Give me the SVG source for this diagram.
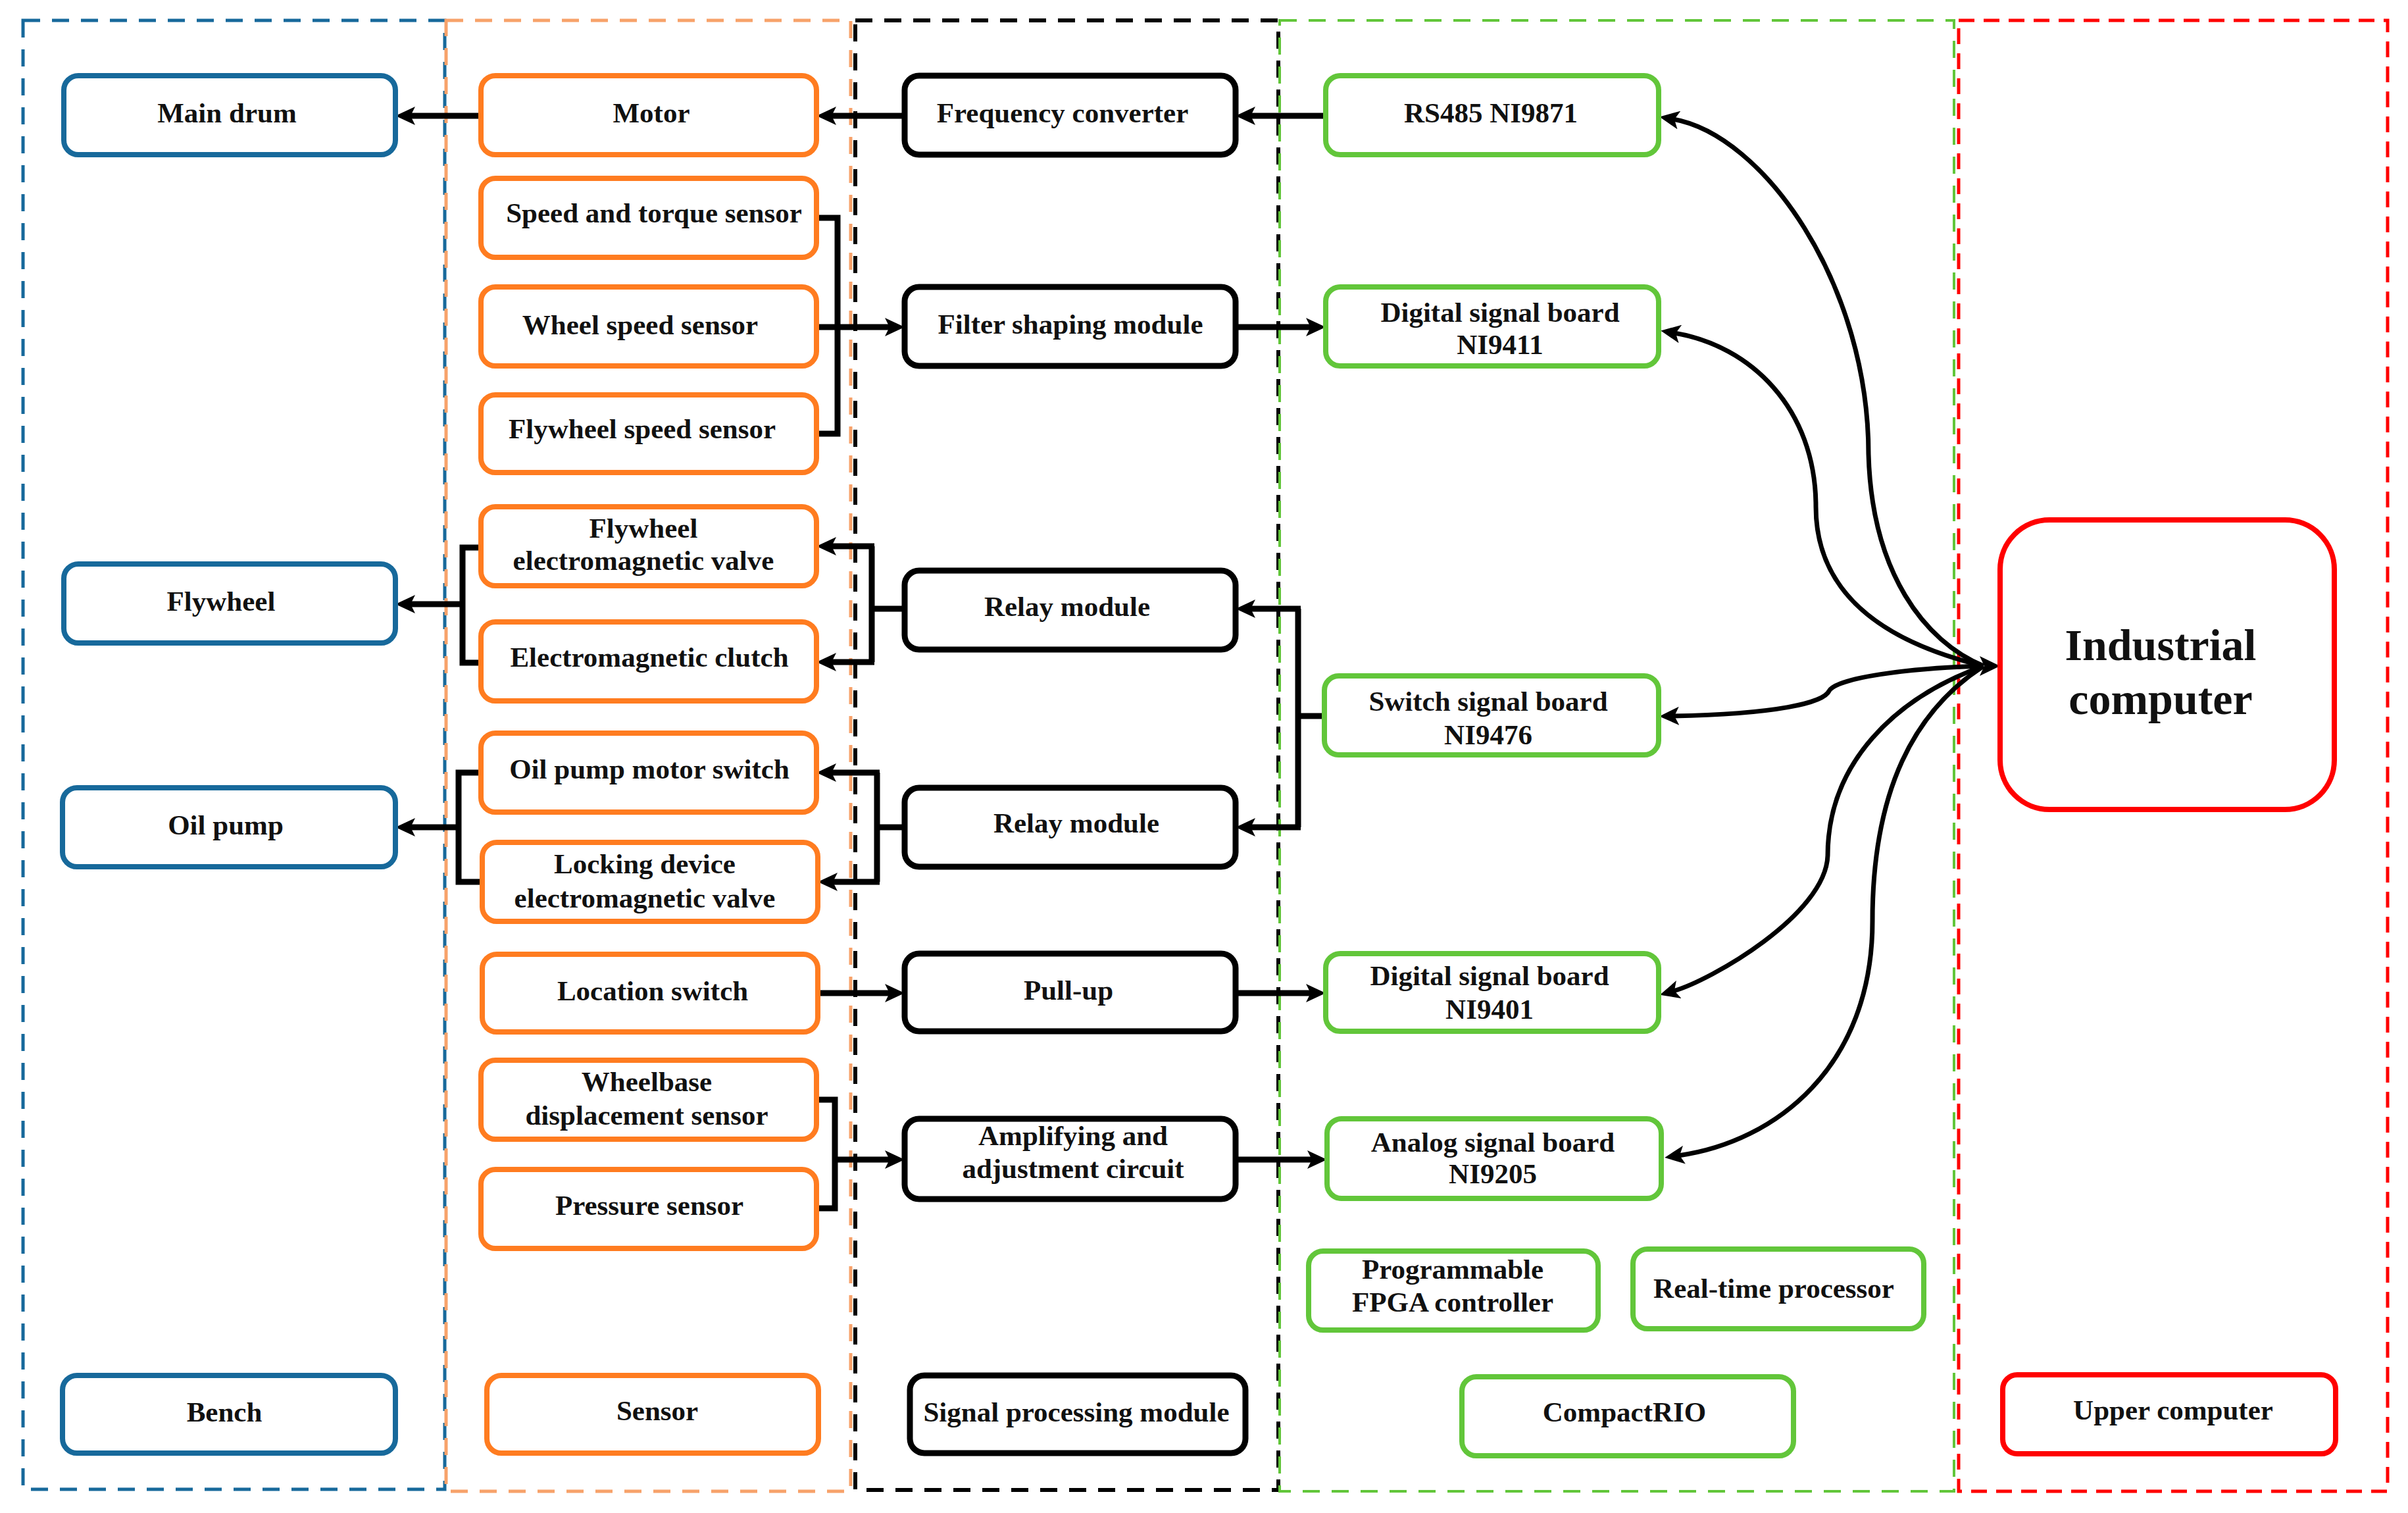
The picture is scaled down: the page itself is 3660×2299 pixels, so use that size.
<svg xmlns="http://www.w3.org/2000/svg" width="3660" height="2299" viewBox="0 0 3660 2299">
<style>
.t{font-family:"Liberation Serif","Times New Roman",serif;font-weight:bold;font-size:43px;fill:#111;text-anchor:middle}
.big{font-size:68px}
.b{fill:#fff;stroke:#17699B;stroke-width:8}
.o{fill:#fff;stroke:#FF7C20;stroke-width:8}
.k{fill:#fff;stroke:#000;stroke-width:9}
.g{fill:#fff;stroke:#62C63A;stroke-width:8}
.r{fill:#fff;stroke:#FF0000;stroke-width:8}
.c{fill:none;stroke:#000;stroke-width:9}
.cv{fill:none;stroke:#000;stroke-width:7}
.a{marker-end:url(#ah)}
.reg{fill:none}
</style>
<defs>
<marker id="ah" viewBox="0 0 30 28" markerUnits="userSpaceOnUse" markerWidth="30" markerHeight="28" refX="9" refY="14" orient="auto">
<path d="M0,0 L30,14 L0,28 L7,14 z" fill="#000"/>
</marker>
</defs>
<rect width="3660" height="2299" fill="#fff"/>
<g id="regions">
<rect class="reg" x="35" y="31" width="641" height="2232" stroke="#17699B" stroke-width="5" stroke-dasharray="26 18"/>
<rect class="reg" x="678" y="31" width="615" height="2235" stroke="#F7A26A" stroke-width="5" stroke-dasharray="26 18"/>
<rect class="reg" x="1300" y="31" width="643" height="2233" stroke="#000" stroke-width="6" stroke-dasharray="26 18"/>
<rect class="reg" x="1945" y="31" width="1025" height="2235" stroke="#62C63A" stroke-width="4" stroke-dasharray="26 18"/>
<rect class="reg" x="2977" y="31" width="652" height="2235" stroke="#FF0000" stroke-width="5" stroke-dasharray="24 14"/>
</g>
<g id="connectors">
<path class="c a" d="M731,176 H622"/>
<path class="c a" d="M1375,176 H1262"/>
<path class="c a" d="M2015,176 H1899"/>
<path class="c" d="M1241,331 H1273 V659 H1241"/>
<path class="c a" d="M1241,497 H1354"/>
<path class="c a" d="M1878,497 H1994"/>
<path class="c" d="M1375,925 H1325 M1325,830 V1006"/>
<path class="c a" d="M1329,830 H1262"/>
<path class="c a" d="M1329,1006 H1262"/>
<path class="c" d="M1375,1257 H1333 M1333,1174 V1340"/>
<path class="c a" d="M1337,1174 H1262"/>
<path class="c a" d="M1337,1340 H1264"/>
<path class="c" d="M2013,1088 H1973 M1973,925 V1257"/>
<path class="c a" d="M1977,925 H1899"/>
<path class="c a" d="M1977,1257 H1899"/>
<path class="c" d="M731,832 H703 V1007 H731"/>
<path class="c a" d="M703,918 H622"/>
<path class="c" d="M733,1174 H697 V1340 H733"/>
<path class="c a" d="M697,1257 H622"/>
<path class="c a" d="M1243,1509 H1354"/>
<path class="c a" d="M1878,1509 H1994"/>
<path class="c" d="M1241,1671 H1269 V1836 H1241"/>
<path class="c a" d="M1269,1762 H1354"/>
<path class="c a" d="M1878,1762 H1996"/>
<path class="cv a" d="M3015,1012 C2925,975 2845,870 2840,690 C2840,430 2680,205 2543,181"/>
<path class="cv a" d="M3015,1012 C2860,975 2760,900 2760,770 C2760,620 2660,525 2545,506"/>
<path class="cv a" d="M3015,1012 C2900,1015 2790,1030 2780,1050 C2772,1068 2700,1085 2543,1088"/>
<path class="cv a" d="M3015,1012 C2880,1060 2778,1160 2778,1300 C2775,1390 2600,1490 2543,1506"/>
<path class="cv a" d="M3015,1012 C2910,1080 2846,1200 2846,1400 C2846,1620 2700,1735 2551,1756"/>
<path d="M3009,997 L3040,1012 L3009,1027 L3016,1012 z" fill="#000"/>
</g>
<g id="main-drum"><rect class="b" x="97" y="115" width="504" height="120" rx="22"/><text class="t" x="345" y="186">Main drum</text></g>
<g id="flywheel"><rect class="b" x="97" y="857" width="504" height="120" rx="22"/><text class="t" x="336" y="928">Flywheel</text></g>
<g id="oil-pump"><rect class="b" x="95" y="1197" width="506" height="120" rx="22"/><text class="t" x="343" y="1268">Oil pump</text></g>
<g id="bench"><rect class="b" x="95" y="2090" width="506" height="118" rx="22"/><text class="t" x="341" y="2160">Bench</text></g>
<g id="motor"><rect class="o" x="731" y="115" width="510" height="120" rx="22"/><text class="t" x="990" y="186">Motor</text></g>
<g id="speed-torque-sensor"><rect class="o" x="731" y="271" width="510" height="120" rx="22"/><text class="t" x="994" y="338">Speed and torque sensor</text></g>
<g id="wheel-speed-sensor"><rect class="o" x="731" y="436" width="510" height="120" rx="22"/><text class="t" x="973" y="508">Wheel speed sensor</text></g>
<g id="flywheel-speed-sensor"><rect class="o" x="731" y="600" width="510" height="118" rx="22"/><text class="t" x="976" y="666">Flywheel speed sensor</text></g>
<g id="flywheel-valve"><rect class="o" x="731" y="770" width="510" height="120" rx="22"/><text class="t" x="978" y="817">Flywheel</text><text class="t" x="978" y="866">electromagnetic valve</text></g>
<g id="clutch"><rect class="o" x="731" y="945" width="510" height="120" rx="22"/><text class="t" x="987" y="1013">Electromagnetic  clutch</text></g>
<g id="oil-pump-switch"><rect class="o" x="731" y="1114" width="510" height="120" rx="22"/><text class="t" x="987" y="1183">Oil pump motor switch</text></g>
<g id="locking-valve"><rect class="o" x="733" y="1280" width="510" height="120" rx="22"/><text class="t" x="980" y="1327">Locking device</text><text class="t" x="980" y="1379">electromagnetic valve</text></g>
<g id="location-switch"><rect class="o" x="733" y="1450" width="510" height="118" rx="22"/><text class="t" x="992" y="1520">Location switch</text></g>
<g id="wheelbase-sensor"><rect class="o" x="731" y="1611" width="510" height="120" rx="22"/><text class="t" x="983" y="1658">Wheelbase</text><text class="t" x="983" y="1709">displacement sensor</text></g>
<g id="pressure-sensor"><rect class="o" x="731" y="1777" width="510" height="120" rx="22"/><text class="t" x="987" y="1846">Pressure sensor</text></g>
<g id="sensor"><rect class="o" x="740" y="2090" width="504" height="118" rx="22"/><text class="t" x="999" y="2158">Sensor</text></g>
<g id="frequency-converter"><rect class="k" x="1375" y="115" width="503" height="120" rx="22"/><text class="t" x="1615" y="186">Frequency converter</text></g>
<g id="filter-shaping"><rect class="k" x="1375" y="436" width="503" height="120" rx="22"/><text class="t" x="1627" y="507">Filter shaping module</text></g>
<g id="relay-1"><rect class="k" x="1375" y="867" width="503" height="120" rx="22"/><text class="t" x="1622" y="936">Relay module</text></g>
<g id="relay-2"><rect class="k" x="1375" y="1197" width="503" height="120" rx="22"/><text class="t" x="1636" y="1265">Relay module</text></g>
<g id="pull-up"><rect class="k" x="1375" y="1449" width="503" height="118" rx="22"/><text class="t" x="1624" y="1519">Pull-up</text></g>
<g id="amplifying"><rect class="k" x="1375" y="1700" width="503" height="122" rx="22"/><text class="t" x="1631" y="1740">Amplifying and</text><text class="t" x="1631" y="1790">adjustment circuit</text></g>
<g id="signal-processing"><rect class="k" x="1383" y="2090" width="510" height="118" rx="22"/><text class="t" x="1636" y="2160">Signal processing module</text></g>
<g id="rs485"><rect class="g" x="2015" y="115" width="506" height="120" rx="22"/><text class="t" x="2266" y="186">RS485 NI9871</text></g>
<g id="ni9411"><rect class="g" x="2015" y="436" width="506" height="120" rx="22"/><text class="t" x="2280" y="489">Digital signal board</text><text class="t" x="2280" y="538">NI9411</text></g>
<g id="ni9476"><rect class="g" x="2013" y="1027" width="508" height="120" rx="22"/><text class="t" x="2262" y="1080">Switch  signal board</text><text class="t" x="2262" y="1131">NI9476</text></g>
<g id="ni9401"><rect class="g" x="2015" y="1449" width="506" height="118" rx="22"/><text class="t" x="2264" y="1497">Digital signal board</text><text class="t" x="2264" y="1548">NI9401</text></g>
<g id="ni9205"><rect class="g" x="2017" y="1700" width="508" height="121" rx="22"/><text class="t" x="2269" y="1750">Analog signal board</text><text class="t" x="2269" y="1798">NI9205</text></g>
<g id="fpga"><rect class="g" x="1989" y="1901" width="440" height="120" rx="22"/><text class="t" x="2208" y="1943">Programmable</text><text class="t" x="2208" y="1993">FPGA controller</text></g>
<g id="real-time-processor"><rect class="g" x="2482" y="1898" width="442" height="121" rx="22"/><text class="t" x="2696" y="1972">Real-time processor</text></g>
<g id="compactrio"><rect class="g" x="2222" y="2092" width="504" height="120" rx="22"/><text class="t" x="2469" y="2160">CompactRIO</text></g>
<g id="industrial-computer"><rect class="r" x="3040" y="790" width="508" height="440" rx="75" stroke-width="10"/><text class="t big" x="3284" y="1003">Industrial</text><text class="t big" x="3284" y="1085">computer</text></g>
<g id="upper-computer"><rect class="r" x="3044" y="2089" width="506" height="120" rx="22"/><text class="t" x="3303" y="2157">Upper computer</text></g>
</svg>
